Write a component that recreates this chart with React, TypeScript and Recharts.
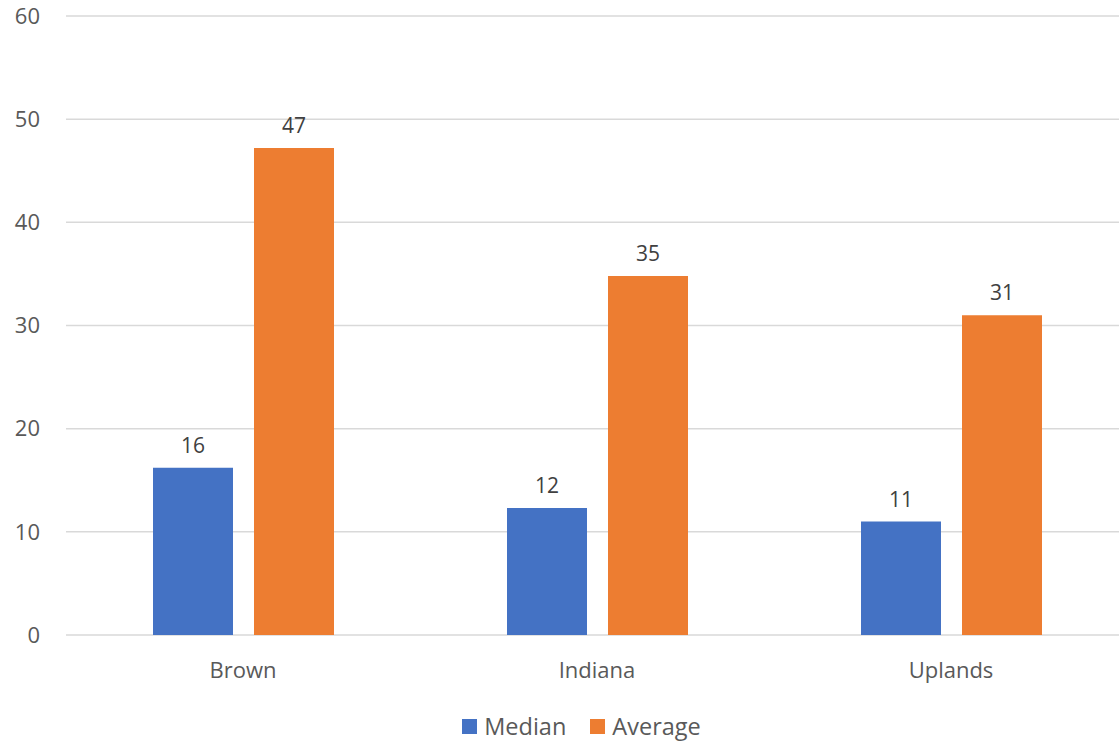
import { BarChart, Bar, XAxis, YAxis, CartesianGrid, Legend, LabelList } from "recharts";

const categories = ["Brown", "Indiana", "Uplands"];
const medianValues = [16.2, 12.3, 11.0];
const averageValues = [47.2, 34.8, 31.0];
const yTicks = [0, 10, 20, 30, 40, 50, 60];

const data = categories.map((name, i) => ({
  name,
  median: medianValues[i],
  average: averageValues[i],
}));

const FONT = "'Open Sans', 'Noto Sans', sans-serif";
const BLUE = "#4472c4";
const ORANGE = "#ed7d31";

const legendItems = [
  { label: "Median", color: BLUE },
  { label: "Average", color: ORANGE },
];

function LegendContent() {
  return (
    <div
      style={{
        display: "flex",
        justifyContent: "center",
        alignItems: "center",
        height: 56,
        paddingTop: 26,
        paddingLeft: 35,
        boxSizing: "border-box",
        fontFamily: FONT,
        fontSize: 23.5,
        color: "#595959",
      }}
    >
      {legendItems.map((it, i) => (
        <div key={it.label} style={{ display: "flex", alignItems: "center", marginLeft: i ? 24 : 0 }}>
          <span style={{ width: 15, height: 15, background: it.color, display: "inline-block", marginRight: 7 }} />
          <span>{it.label}</span>
        </div>
      ))}
    </div>
  );
}

export default function App() {
  return (
    <div style={{ position: "absolute", left: 0, top: 0, width: 1119, height: 741, background: "#fff", overflow: "hidden" }}>
      <BarChart
        width={1128}
        height={741}
        data={data}
        margin={{ top: 16, right: 0, left: 0, bottom: 0 }}
        barGap={21}
      >
        <CartesianGrid vertical={false} stroke="#d9d9d9" strokeWidth={1.5} />
        <YAxis
          width={66}
          domain={[0, 60]}
          ticks={yTicks}
          axisLine={false}
          tickLine={false}
          tickSize={0}
          tickMargin={26}
          tick={{ fontSize: 22, fill: "#595959", fontFamily: FONT }}
        />
        <XAxis
          dataKey="name"
          height={50}
          axisLine={false}
          tickLine={false}
          tickSize={0}
          tickMargin={27}
          tick={{ fontSize: 22, fill: "#595959", fontFamily: FONT }}
        />
        <Legend verticalAlign="bottom" content={<LegendContent />} />
        <Bar dataKey="median" fill={BLUE} barSize={80} isAnimationActive={false}>
          <LabelList
            dataKey="median"
            position="top"
            offset={15}
            formatter={(v: number) => Math.round(v)}
            style={{ fontSize: 21, fill: "#404040", fontFamily: FONT }}
          />
        </Bar>
        <Bar dataKey="average" fill={ORANGE} barSize={80} isAnimationActive={false}>
          <LabelList
            dataKey="average"
            position="top"
            offset={15}
            formatter={(v: number) => Math.round(v)}
            style={{ fontSize: 21, fill: "#404040", fontFamily: FONT }}
          />
        </Bar>
      </BarChart>
    </div>
  );
}
